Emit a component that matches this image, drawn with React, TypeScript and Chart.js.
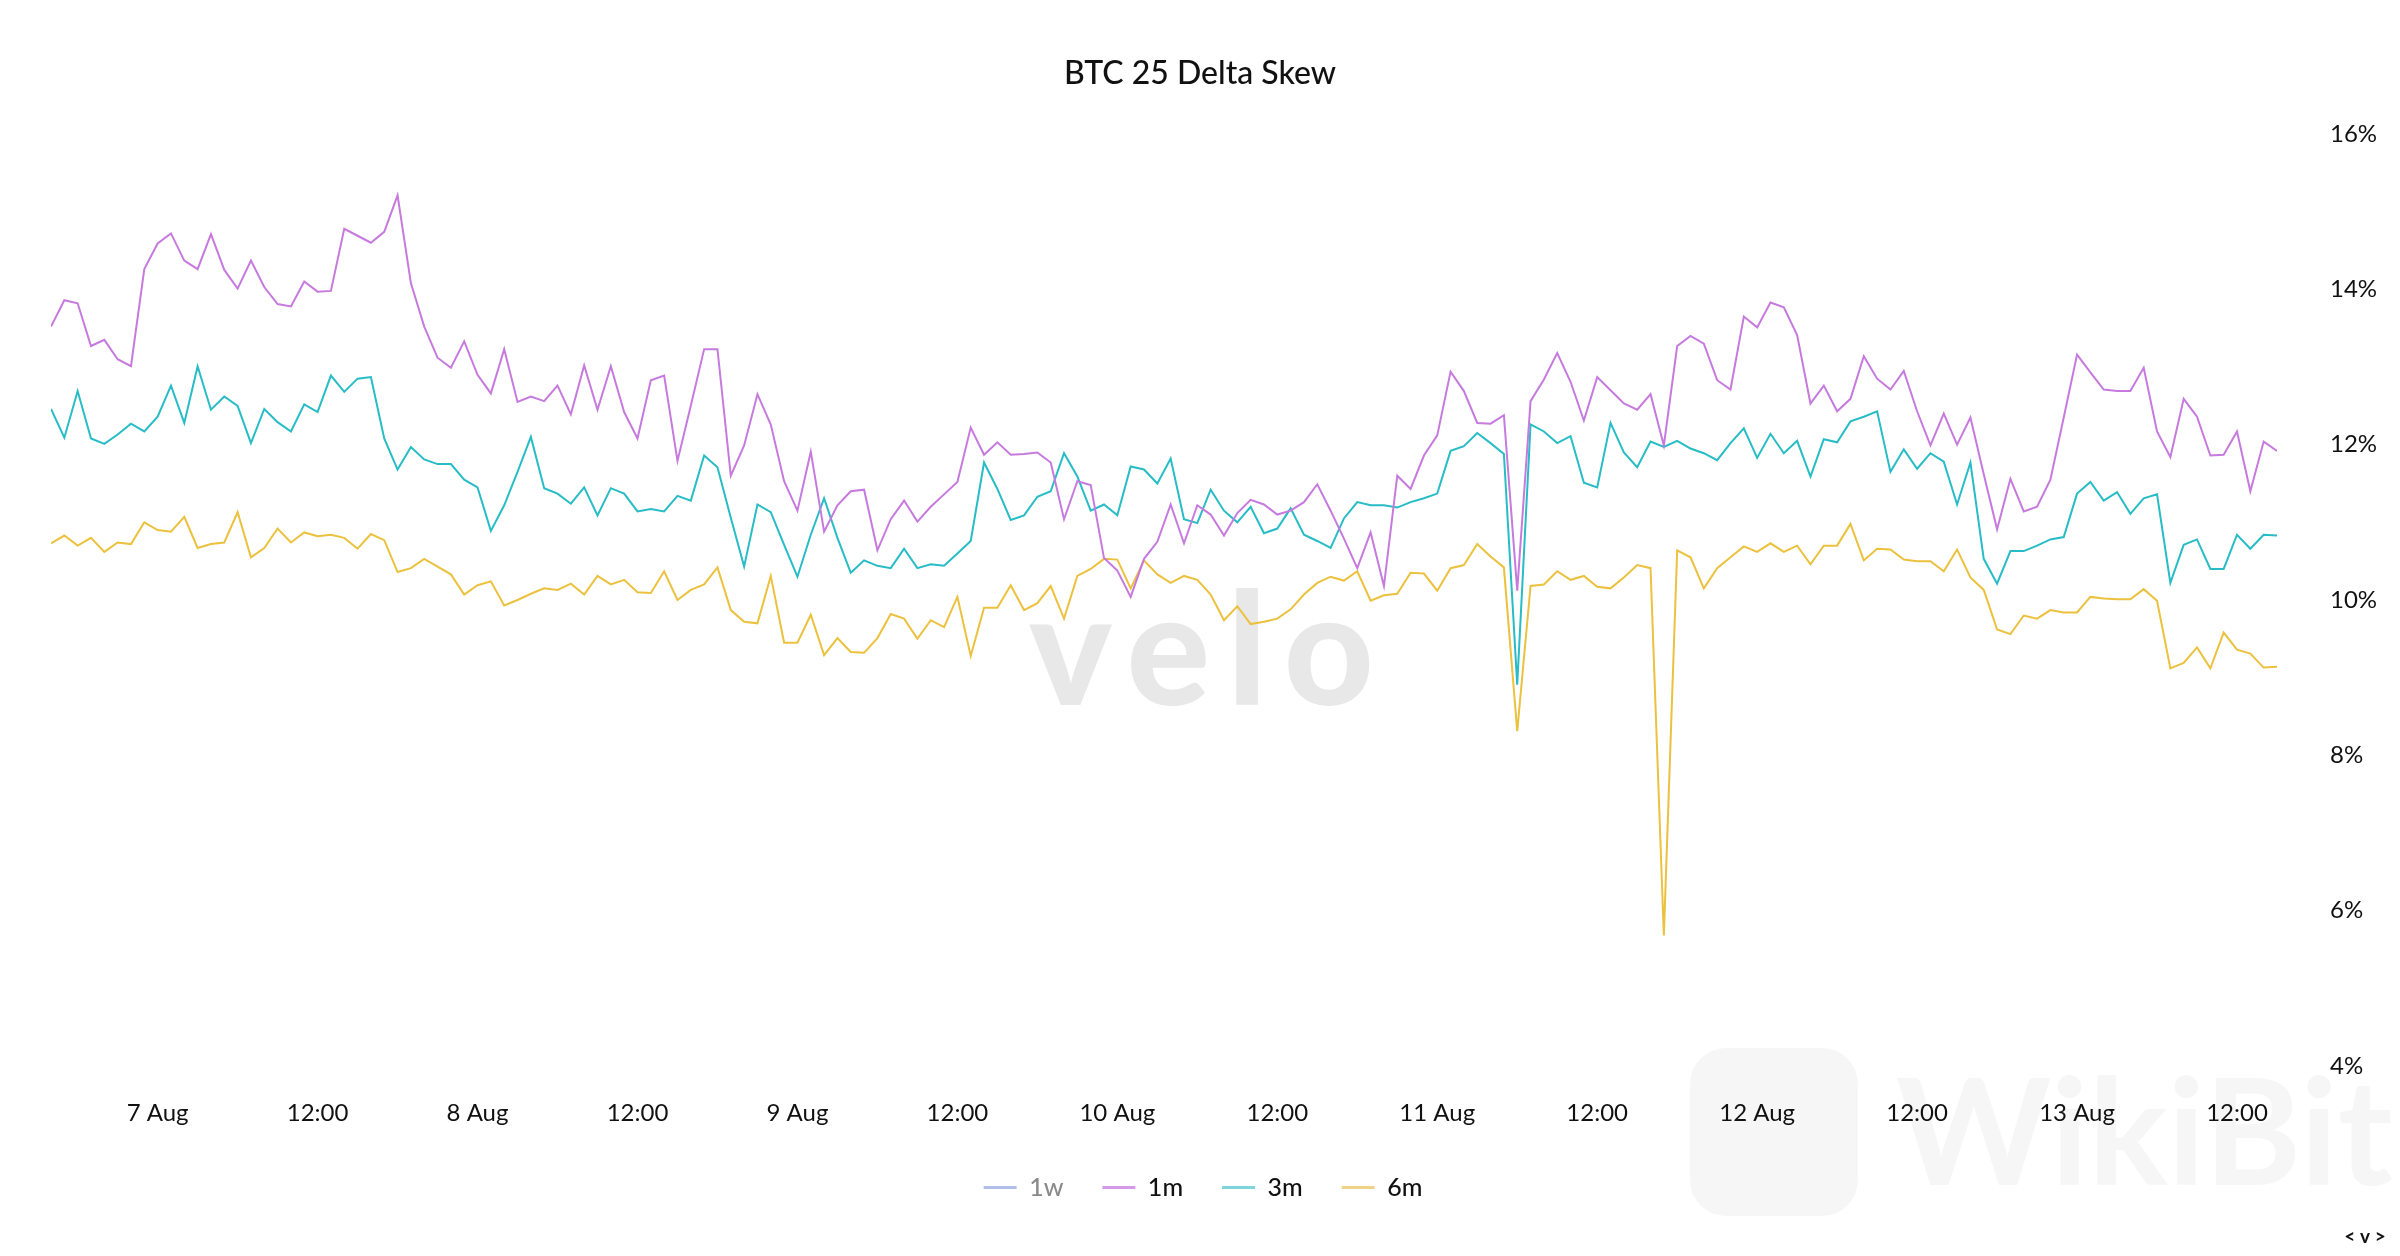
import React, { useEffect, useRef } from "react";
import { Chart, registerables } from "chart.js";

Chart.register(...registerables);

// ---- data (hourly, starting 6 Aug 16:00) ----
const seriesLabels = ["1w", "1m", "3m", "6m"];

const skew1w: number[] = [];

const skew1m = [
  13.52, 13.86, 13.82, 13.27, 13.35, 13.10, 13.01, 14.26, 14.59, 14.72,
  14.37, 14.26, 14.71, 14.25, 14.01, 14.37, 14.03, 13.81, 13.78, 14.10,
  13.97, 13.98, 14.78, 14.69, 14.60, 14.74, 15.21, 14.08, 13.52, 13.12,
  12.99, 13.33, 12.90, 12.66, 13.23, 12.55, 12.62, 12.56, 12.76, 12.39,
  13.02, 12.45, 13.01, 12.42, 12.08, 12.83, 12.89, 11.79, 12.50, 13.23,
  13.23, 11.60, 11.99, 12.65, 12.26, 11.53, 11.15, 11.91, 10.88, 11.22,
  11.40, 11.42, 10.64, 11.04, 11.28, 11.01, 11.20, 11.36, 11.52, 12.22,
  11.87, 12.03, 11.87, 11.88, 11.90, 11.77, 11.04, 11.53, 11.48, 10.54,
  10.38, 10.04, 10.53, 10.75, 11.23, 10.73, 11.22, 11.10, 10.83, 11.12,
  11.29, 11.23, 11.10, 11.15, 11.26, 11.49, 11.15, 10.79, 10.41, 10.87,
  10.18, 11.60, 11.43, 11.86, 12.12, 12.94, 12.69, 12.28, 12.27, 12.38,
  10.12, 12.56, 12.84, 13.18, 12.81, 12.31, 12.87, 12.70, 12.53, 12.45,
  12.65, 11.99, 13.27, 13.40, 13.30, 12.83, 12.71, 13.65, 13.51, 13.83,
  13.77, 13.41, 12.53, 12.76, 12.43, 12.59, 13.14, 12.85, 12.71, 12.95,
  12.43, 11.99, 12.40, 12.00, 12.35, 11.62, 10.91, 11.56, 11.14, 11.20,
  11.55, 12.35, 13.16, 12.93, 12.71, 12.69, 12.69, 12.99, 12.17, 11.84,
  12.59, 12.36, 11.86, 11.87, 12.17, 11.40, 12.04, 11.92,
];

const skew3m = [
  12.46, 12.09, 12.69, 12.08, 12.01, 12.13, 12.27, 12.17, 12.36, 12.76,
  12.28, 13.01, 12.45, 12.62, 12.50, 12.02, 12.46, 12.29, 12.17, 12.52,
  12.42, 12.89, 12.68, 12.85, 12.87, 12.08, 11.68, 11.97, 11.81, 11.75,
  11.75, 11.55, 11.45, 10.89, 11.22, 11.65, 12.10, 11.44, 11.37, 11.24,
  11.45, 11.09, 11.44, 11.37, 11.14, 11.17, 11.14, 11.34, 11.28, 11.86,
  11.71, 11.06, 10.43, 11.23, 11.13, 10.71, 10.30, 10.84, 11.31, 10.80,
  10.35, 10.51, 10.44, 10.41, 10.66, 10.41, 10.46, 10.44, 10.60, 10.76,
  11.77, 11.43, 11.03, 11.09, 11.33, 11.40, 11.89, 11.59, 11.15, 11.23,
  11.09, 11.72, 11.68, 11.50, 11.82, 11.04, 10.99, 11.42, 11.15, 11.00,
  11.20, 10.86, 10.92, 11.18, 10.84, 10.76, 10.67, 11.05, 11.26, 11.22,
  11.22, 11.19, 11.26, 11.31, 11.37, 11.92, 11.98, 12.15, 12.02, 11.88,
  8.91, 12.26, 12.17, 12.02, 12.11, 11.51, 11.45, 12.28, 11.90, 11.71,
  12.04, 11.97, 12.05, 11.95, 11.89, 11.80, 12.02, 12.21, 11.83, 12.14,
  11.89, 12.05, 11.59, 12.07, 12.03, 12.30, 12.36, 12.43, 11.65, 11.94,
  11.69, 11.89, 11.78, 11.23, 11.77, 10.53, 10.21, 10.63, 10.63, 10.70,
  10.78, 10.81, 11.37, 11.52, 11.28, 11.39, 11.11, 11.31, 11.36, 10.22,
  10.71, 10.78, 10.40, 10.40, 10.84, 10.66, 10.84, 10.83,
];

const skew6m = [
  10.73, 10.83, 10.70, 10.80, 10.62, 10.74, 10.72, 11.00, 10.90, 10.88,
  11.07, 10.67, 10.72, 10.74, 11.13, 10.55, 10.67, 10.92, 10.74, 10.87,
  10.82, 10.84, 10.80, 10.66, 10.85, 10.77, 10.36, 10.41, 10.53, 10.43,
  10.33, 10.07, 10.19, 10.24, 9.93, 10.00, 10.08, 10.15, 10.13, 10.21,
  10.07, 10.31, 10.20, 10.26, 10.10, 10.09, 10.37, 10.00, 10.13, 10.20,
  10.42, 9.87, 9.72, 9.70, 10.31, 9.45, 9.45, 9.81, 9.29, 9.51,
  9.33, 9.32, 9.51, 9.82, 9.76, 9.50, 9.74, 9.65, 10.04, 9.28,
  9.90, 9.90, 10.19, 9.87, 9.96, 10.18, 9.76, 10.31, 10.40, 10.53,
  10.52, 10.15, 10.51, 10.33, 10.22, 10.31, 10.26, 10.07, 9.74, 9.92,
  9.69, 9.72, 9.76, 9.88, 10.07, 10.22, 10.30, 10.25, 10.37, 9.99,
  10.06, 10.08, 10.35, 10.34, 10.12, 10.41, 10.45, 10.72, 10.56, 10.42,
  8.31, 10.18, 10.20, 10.37, 10.26, 10.31, 10.17, 10.15, 10.29, 10.45,
  10.41, 5.68, 10.64, 10.55, 10.15, 10.41, 10.55, 10.69, 10.62, 10.73,
  10.62, 10.70, 10.46, 10.70, 10.70, 10.98, 10.51, 10.66, 10.65, 10.52,
  10.50, 10.50, 10.37, 10.65, 10.29, 10.13, 9.62, 9.56, 9.80, 9.76,
  9.87, 9.84, 9.84, 10.04, 10.02, 10.01, 10.01, 10.14, 9.99, 9.12,
  9.19, 9.39, 9.12, 9.58, 9.36, 9.31, 9.13, 9.14,
];

// x tick positions (hour index) and their labels
const xTickPositions = [8, 20, 32, 44, 56, 68, 80, 92, 104, 116, 128, 140, 152, 164];
const xTickLabels = [
  "7 Aug", "12:00", "8 Aug", "12:00", "9 Aug", "12:00", "10 Aug",
  "12:00", "11 Aug", "12:00", "12 Aug", "12:00", "13 Aug", "12:00",
];
const yTickValues = [4, 6, 8, 10, 12, 14, 16];

const lineColors = ["#a3b1e3", "#c77ade", "#27bcc6", "#ebc13e"];
const legendColors = ["#b3bfe8", "#d49ce8", "#7fd5db", "#efd487"];

const FONT = "Lato, 'Noto Sans', sans-serif";

const decorPlugin = {
  id: "decor",
  afterLayout(chart: any) {
    const lg = chart.legend;
    if (lg) {
      lg.left -= 11;
      lg.right -= 11;
    }
  },
  beforeDraw(chart: any) {
    const ctx = chart.ctx;
    ctx.save();
    // faint WikiBit watermark
    ctx.fillStyle = "#f6f6f6";
    const rx = 1682, ry = 1040, rw = 168, rh = 168, r = 36;
    ctx.beginPath();
    ctx.moveTo(rx + r, ry);
    ctx.arcTo(rx + rw, ry, rx + rw, ry + rh, r);
    ctx.arcTo(rx + rw, ry + rh, rx, ry + rh, r);
    ctx.arcTo(rx, ry + rh, rx, ry, r);
    ctx.arcTo(rx, ry, rx + rw, ry, r);
    ctx.closePath();
    ctx.fill();
    ctx.font = `700 148px ${FONT}`;
    ctx.textAlign = "left";
    ctx.textBaseline = "alphabetic";
    ctx.fillStyle = "#f6f6f6";
    ctx.fillText("WikiBit", 1888, 1177);
    ctx.restore();
  },
  beforeDatasetsDraw(chart: any) {
    const ctx = chart.ctx;
    ctx.save();
    ctx.font = `900 156px ${FONT}`;
    (ctx as any).letterSpacing = "17px";
    ctx.fillStyle = "#e8e8e8";
    ctx.textAlign = "center";
    ctx.textBaseline = "alphabetic";
    ctx.fillText("velo", 1202, 697);
    ctx.restore();
  },
  afterDraw(chart: any) {
    const ctx = chart.ctx;
    ctx.save();
    ctx.fillStyle = "#111111";
    ctx.textAlign = "center";
    ctx.textBaseline = "middle";
    ctx.font = `500 32px ${FONT}`;
    ctx.fillText("BTC 25 Delta Skew", 1192, 66);
    ctx.font = `700 19px ${FONT}`;
    ctx.fillText("< v >", 2357, 1229);
    ctx.restore();
  },
};

export default function App() {
  const canvasRef = useRef<HTMLCanvasElement | null>(null);

  useEffect(() => {
    if (!canvasRef.current) return;
    const toPoints = (arr: number[]) => arr.map((y, i) => ({ x: i, y }));
    const seriesData = [skew1w, skew1m, skew3m, skew6m];
    const chart = new Chart(canvasRef.current, {
      type: "line",
      data: {
        datasets: seriesLabels.map((label, i) => ({
          label,
          data: toPoints(seriesData[i]),
          borderColor: lineColors[i],
          backgroundColor: lineColors[i],
          borderWidth: 2,
          pointRadius: 0,
          tension: 0,
          fill: false,
          hidden: i === 0,
        })),
      },
      options: {
        animation: false,
        responsive: true,
        maintainAspectRatio: false,
        events: [],
        layout: { padding: { left: 43, right: 15, top: 126, bottom: 38 } },
        plugins: {
          title: { display: false },
          tooltip: { enabled: false },
          legend: {
            display: true,
            position: "bottom",
            labels: {
              boxWidth: 33,
              boxHeight: 3,
              padding: 39,
              color: "#111111",
              font: { family: FONT, size: 25, weight: "500" as any },
              generateLabels: (c: any) =>
                c.data.datasets.map((ds: any, i: number) => ({
                  text: ds.label,
                  fillStyle: legendColors[i],
                  strokeStyle: legendColors[i],
                  lineWidth: 0,
                  hidden: false,
                  fontColor: i === 0 ? "#8a8a8a" : "#111111",
                  datasetIndex: i,
                })),
            },
          },
        },
        scales: {
          x: {
            type: "linear",
            min: 0,
            max: skew1m.length - 1,
            grid: { display: false, drawTicks: false },
            border: { display: false },
            afterBuildTicks: (s: any) => {
              s.ticks = xTickPositions.map((v) => ({ value: v }));
            },
            afterFit: (s: any) => {
              s.height = 70;
            },
            ticks: {
              autoSkip: false,
              maxRotation: 0,
              padding: 33,
              color: "#111111",
              font: { family: FONT, size: 24 },
              callback: (v: any) => {
                const k = xTickPositions.indexOf(Number(v));
                return k >= 0 ? xTickLabels[k] : "";
              },
            },
          },
          y: {
            position: "right",
            min: 4,
            max: 16,
            grid: { display: false, drawTicks: false },
            border: { display: false },
            afterBuildTicks: (s: any) => {
              s.ticks = yTickValues.map((v) => ({ value: v }));
            },
            afterFit: (s: any) => {
              s.width = 100;
            },
            ticks: {
              padding: 53,
              color: "#111111",
              font: { family: FONT, size: 24 },
              callback: (v: any) => `${v}%`,
            },
          },
        },
      },
      plugins: [decorPlugin],
    });
    return () => chart.destroy();
  }, []);

  return (
    <div style={{ width: 2384, height: 1240, position: "relative", background: "#ffffff" }}>
      <canvas ref={canvasRef} />
    </div>
  );
}
